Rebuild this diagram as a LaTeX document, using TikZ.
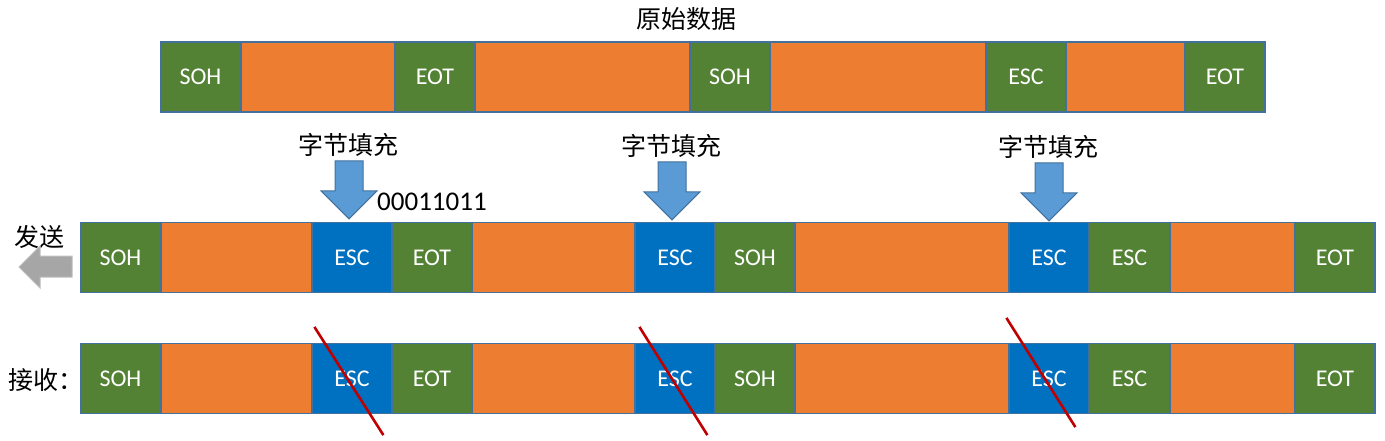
\documentclass[tikz,border=0pt]{standalone}
\usepackage{fontspec}
\setmainfont{Carlito}
\newfontfamily\cjk{Noto Sans CJK SC}
\usepackage{tikz}
\usetikzlibrary{arrows.meta}
\usetikzlibrary{calc}
\usetikzlibrary{shapes}

\definecolor{ctrlgreen}{HTML}{548235}
\definecolor{dataorange}{HTML}{ED7D31}
\definecolor{escblue}{HTML}{0070C0}
\definecolor{edgeblue}{HTML}{41719C}
\definecolor{arrowblue}{HTML}{5B9BD5}
\definecolor{strikered}{HTML}{C00000}

\begin{document}
\begin{tikzpicture}[x=1pt, y=-1pt,
        box_style/.style={rectangle,draw=edgeblue,line width=1.2pt,inner sep=0pt,minimum height=70pt,text=white,font=\fontsize{24}{28}\selectfont},
        ctrl_style/.style={box_style,fill=ctrlgreen,minimum width=80pt},
        esc_style/.style={box_style,fill=escblue,minimum width=80pt},
        data_style/.style={box_style,fill=dataorange},
        label_style/.style={font=\cjk\fontsize{25}{28}\selectfont,inner sep=0pt},
        down_arrow_style/.style={draw=edgeblue,line width=1pt,fill=arrowblue},
        send_arrow_style/.style={draw=black!25,line width=1pt,fill=black!35},
        strike_style/.style={draw=strikered,line width=2.6pt}]

        \useasboundingbox (0,0) rectangle (1385,440);

        % original data
        \node [label_style](title) at (686,19) {原始数据};

        \node [ctrl_style](t1) at (200.5,77) {SOH};
        \node [data_style,minimum width=154pt](t2) at (318,77) {};
        \node [ctrl_style](t3) at (435,77) {EOT};
        \node [data_style,minimum width=215pt](t4) at (582.5,77) {};
        \node [ctrl_style](t5) at (730,77) {SOH};
        \node [data_style,minimum width=216pt](t6) at (878,77) {};
        \node [ctrl_style](t7) at (1026,77) {ESC};
        \node [data_style,minimum width=119pt](t8) at (1125.5,77) {};
        \node [ctrl_style](t9) at (1225,77) {EOT};

        % sent frame
        \node [ctrl_style](s1) at (120.5,257.5) {SOH};
        \node [data_style,minimum width=151pt](s2) at (236.5,257.5) {};
        \node [esc_style](s3) at (352,257.5) {ESC};
        \node [ctrl_style](s4) at (432,257.5) {EOT};
        \node [data_style,minimum width=163pt](s5) at (553.5,257.5) {};
        \node [esc_style](s6) at (675,257.5) {ESC};
        \node [ctrl_style](s7) at (755,257.5) {SOH};
        \node [data_style,minimum width=214pt](s8) at (902,257.5) {};
        \node [esc_style](s9) at (1049,257.5) {ESC};
        \node [ctrl_style](s10) at (1129.5,257.5) {ESC};
        \node [data_style,minimum width=125pt](s11) at (1232.5,257.5) {};
        \node [ctrl_style](s12) at (1335,257.5) {EOT};

        % received frame
        \node [ctrl_style](r1) at (120.5,378.5) {SOH};
        \node [data_style,minimum width=151pt](r2) at (236.5,378.5) {};
        \node [esc_style](r3) at (352,378.5) {ESC};
        \node [ctrl_style](r4) at (432,378.5) {EOT};
        \node [data_style,minimum width=163pt](r5) at (553.5,378.5) {};
        \node [esc_style](r6) at (675,378.5) {ESC};
        \node [ctrl_style](r7) at (755,378.5) {SOH};
        \node [data_style,minimum width=214pt](r8) at (902,378.5) {};
        \node [esc_style](r9) at (1049,378.5) {ESC};
        \node [ctrl_style](r10) at (1129.5,378.5) {ESC};
        \node [data_style,minimum width=125pt](r11) at (1232.5,378.5) {};
        \node [ctrl_style](r12) at (1335,378.5) {EOT};

        % byte stuffing labels and arrows
        \node [label_style](f1) at (348,145) {字节填充};
        \node [label_style](f2) at (671,146) {字节填充};
        \node [label_style](f3) at (1048,147) {字节填充};
        \node [anchor=west,inner sep=0pt,font=\fontsize{27}{30}\selectfont](code) at (377,202) {00011011};

        \draw [down_arrow_style] ($(s3.north)+(-3,-3)$) -- ++(-28,-28) -- ++(14,0) -- ++(0,-30)
            -- ++(28,0) -- ++(0,30) -- ++(14,0) -- cycle;
        \draw [down_arrow_style] ($(s6.north)+(-3,-2)$) -- ++(-28,-28) -- ++(14,0) -- ++(0,-30)
            -- ++(28,0) -- ++(0,30) -- ++(14,0) -- cycle;
        \draw [down_arrow_style] ($(s9.north)+(0,-1)$) -- ++(-28,-28) -- ++(14,0) -- ++(0,-30)
            -- ++(28,0) -- ++(0,30) -- ++(14,0) -- cycle;

        % send / receive
        \node [label_style](send) at (39,237) {发送};
        \node [label_style,anchor=west](recv) at (8,380) {接收：};
        \draw [send_arrow_style] (19,267) -- (40,246) -- (40,256) -- (72,256) -- (72,277)
            -- (40,277) -- (40,288) -- cycle;

        % removed escapes
        \draw [strike_style] ($(r3.north west)+(3,-16)$) -- ($(r3.south west)+(72,21)$);
        \draw [strike_style] ($(r6.north west)+(5,-16)$) -- ($(r6.south west)+(73,21)$);
        \draw [strike_style] ($(r9.north west)+(-2,-25)$) -- ($(r9.south west)+(67,13)$);

        \end{tikzpicture}
\end{document}
